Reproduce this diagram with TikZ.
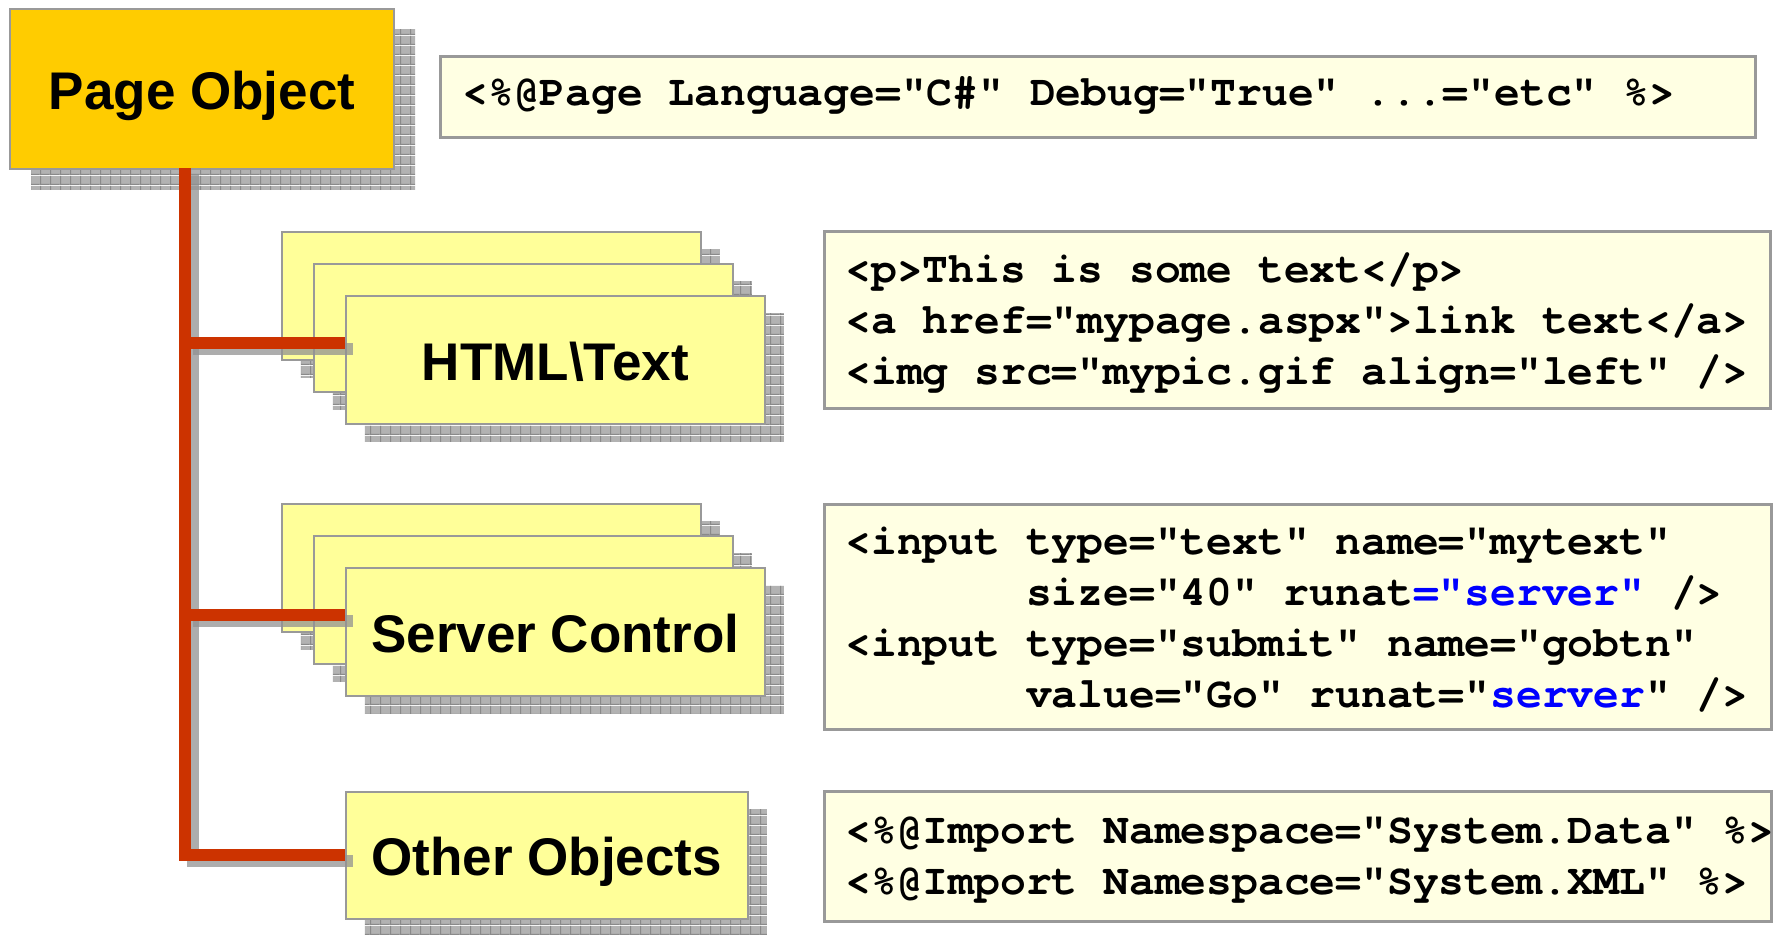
\documentclass[tikz,border=0pt]{standalone}
\usepackage{fontspec}
\setmainfont{Liberation Sans}
\newfontfamily\codefont{TeX Gyre Cursor}[WordSpace={1,0,0}]
\usetikzlibrary{patterns,shadows,calc}

\definecolor{pagegold}{HTML}{FFCC00}
\definecolor{cardyellow}{HTML}{FFFF99}
\definecolor{codecream}{HTML}{FFFFE3}
\definecolor{edgegray}{HTML}{999999}
\definecolor{trunkred}{HTML}{CC3300}
\definecolor{shadowbg}{HTML}{B2B2B2}
\definecolor{shadowln}{HTML}{8A8A8A}
\definecolor{kwblue}{HTML}{0000FF}

% gray hatched tile used for the drop shadows
\pgfdeclarepatterninherentlycolored{shadowgrid}
{\pgfpointorigin}{\pgfpoint{5pt}{5pt}}{\pgfpoint{5pt}{5pt}}
{%
  \pgfsetfillcolor{shadowbg}%
  \pgfpathrectangle{\pgfpointorigin}{\pgfpoint{5pt}{5pt}}%
  \pgfusepath{fill}%
  \pgfsetstrokecolor{shadowln}%
  \pgfsetlinewidth{0.6pt}%
  \pgfpathmoveto{\pgfpoint{0pt}{0.3pt}}\pgfpathlineto{\pgfpoint{5pt}{0.3pt}}%
  \pgfpathmoveto{\pgfpoint{0.3pt}{0pt}}\pgfpathlineto{\pgfpoint{0.3pt}{5pt}}%
  \pgfusepath{stroke}%
}

\newcommand\lblfont{\fontsize{26.5pt}{31pt}\selectfont\bfseries}
\newcommand\cdfont{\codefont\bfseries\fontsize{21.5pt}{25.5pt}\selectfont}

\tikzset{
  pageshade/.style={drop shadow={shadow xshift=10.5pt, shadow yshift=-10pt,
      opacity=1, pattern=shadowgrid}},
  cardshade/.style={drop shadow={shadow xshift=9.5pt, shadow yshift=-9pt,
      opacity=1, pattern=shadowgrid}},
  pagebox/.style={anchor=north west, draw=edgegray, line width=1pt,
      fill=pagegold, minimum width=192pt, minimum height=80pt,
      inner sep=0pt, font=\lblfont, text height=21pt, text depth=0.5pt,
      pageshade},
  card/.style={anchor=north west, draw=edgegray, line width=0.8pt,
      fill=cardyellow, minimum width=209.5pt, minimum height=64pt,
      inner sep=0pt, font=\lblfont, text height=21pt, text depth=0.5pt,
      cardshade},
  codebox/.style={anchor=north west, draw=edgegray, line width=1.6pt,
      fill=codecream, inner sep=0pt},
  codetext/.style={anchor=west, align=left, inner sep=0pt, font=\cdfont},
  connector/.style={draw=trunkred, line width=6pt, line join=miter},
  connshade/.style={draw=shadowln!80!shadowbg, draw opacity=0.75, line width=6pt,
      line join=miter, transform canvas={shift={(4pt,-3pt)}}},
}

\begin{document}
\begin{tikzpicture}[x=0.5pt,y=-0.5pt]
\useasboundingbox (0,0) rectangle (1775,934);
\fill[white] (0,0) rectangle (1775,934);

% root object
\node[pagebox] (page) at (9,8) {Page Object};

% page directive
\node[codebox, minimum width=657.5pt, minimum height=40.5pt] (pagecode) at (439,55) {};
\node[codetext] (pagecodetxt) at ($(pagecode.west)+(23,-2)$)
  {<\%@Page Language="C\#" Debug="True" ...="etc" \%>};

% HTML / text stack
\node[card] (htmlA) at (281,231) {};
\node[card] (htmlB) at (313,263) {};
\node[card] (html)  at (345,295) {HTML\textbackslash Text};

\node[codebox, minimum width=473pt, minimum height=88.5pt] (htmlcode) at (823,230) {};
\node[codetext] (htmlcodetxt) at ($(htmlcode.west)+(22,3)$)
  {<p>This is some text</p>\\
   <a href="mypage.aspx">link text</a>\\
   <img src="mypic.gif align="left" />};

% server control stack
\node[card] (srvA) at (281,503) {};
\node[card] (srvB) at (313,535) {};
\node[card] (srv)  at (345,567) {Server Control};

\node[codebox, minimum width=473.5pt, minimum height=112.5pt] (srvcode) at (823,503) {};
\node[codetext] (srvcodetxt) at ($(srvcode.west)+(22,3)$)
  {<input type="text" name="mytext"\\
   \hphantom{<input} size="40" runat\textcolor{kwblue}{="server"} />\\
   <input type="submit" name="gobtn"\\
   \hphantom{<input} value="Go" runat="\textcolor{kwblue}{server}" />};

% other objects
\node[card, minimum width=201pt, minimum height=63.5pt] (other) at (345,791) {Other Objects};

\node[codebox, minimum width=473.5pt, minimum height=65pt] (impcode) at (823,790) {};
\node[codetext] (impcodetxt) at ($(impcode.west)+(22,3)$)
  {<\%@Import Namespace="System.Data" \%>\\
   <\%@Import Namespace="System.XML" \%>};

% tree connectors
\coordinate (trunkTop) at (185,168);
\coordinate (trunkBottom) at (185,855);
\coordinate (jHtml) at (185,343);
\coordinate (jSrv) at (185,615);

\draw[connshade] (trunkTop) -- (trunkBottom) -- (trunkBottom -| other.west);
\draw[connshade] (jHtml) -- (jHtml -| html.west);
\draw[connshade] (jSrv) -- (jSrv -| srv.west);

\draw[connector] (trunkTop) -- (trunkBottom) -- (trunkBottom -| other.west);
\draw[connector] (jHtml) -- (jHtml -| html.west);
\draw[connector] (jSrv) -- (jSrv -| srv.west);
\end{tikzpicture}
\end{document}
